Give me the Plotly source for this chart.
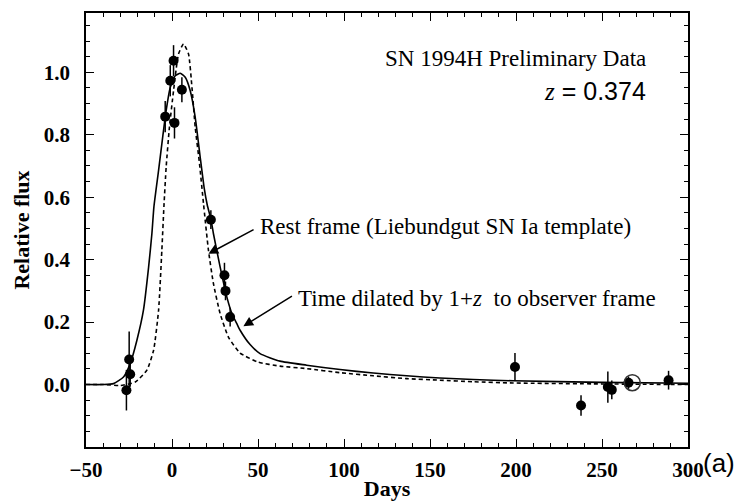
import plotly.graph_objects as go

# ---- data ----
obs_days = [-24.9, -24.3, -26.5, -3.95, -1.0, 0.9, 1.45, 5.75, 22.6, 30.5, 31.1, 33.8,
            199.4, 237.8, 253.4, 255.7, 265.4, 288.7]
obs_flux = [0.080, 0.033, -0.018, 0.858, 0.973, 1.037, 0.838, 0.944, 0.528, 0.350, 0.300, 0.216,
            0.056, -0.067, -0.008, -0.017, 0.006, 0.014]
obs_err = [0.090, 0.040, 0.065, 0.050, 0.050, 0.050, 0.050, 0.040, 0.030, 0.040, 0.030, 0.030,
           0.045, 0.033, 0.050, 0.030, 0.020, 0.030]

circled_day = [267.6]
circled_flux = [0.006]

# time-dilated template (solid)
dil_days = [-50, -40, -34, -28.2, -24.3, -20.4, -16.6, -13.6, -11.7, -10.5, -7.8, -5.9, -3.4,
             -1.0, 1.9, 4.8, 7.7, 10.6, 13.5, 16.4, 18.7, 20.5, 22.6, 24.1, 28.0, 31.9, 35.0,
             37.7, 39.6, 45.4, 51.2, 62.8, 78.3, 97.7, 117, 136.4, 155.7, 175.1, 198.3, 250, 300]
dil_flux = [0.0, 0.0, 0.003, 0.024, 0.067, 0.142, 0.238, 0.376, 0.483, 0.570, 0.686, 0.771, 0.877,
            0.952, 0.989, 0.997, 0.984, 0.941, 0.856, 0.728, 0.630, 0.575, 0.530, 0.483, 0.376, 0.280, 0.225,
            0.195, 0.174, 0.128, 0.099, 0.075, 0.062, 0.048, 0.037, 0.028, 0.021, 0.016, 0.012, 0.007, 0.004]

# rest-frame template (dashed)
rest_days = [-50, -40, -30, -21.4, -14.6, -10.7, -7.8, -5.9, -4.7, -3.4, -1.5, 0.9, 3.8, 6.7,
             9.6, 11.6, 13.5, 16.0, 18.3, 21.2, 24.1, 28.0, 32.8, 39.6, 50, 62.8, 78.3, 97.7,
             117, 136.4, 155.7, 175.1, 198.3, 250, 300]
rest_flux = [0.0, 0.0, -0.003, 0.008, 0.046, 0.110, 0.238, 0.430, 0.570, 0.696, 0.824, 0.941, 1.059, 1.091,
             1.059, 0.952, 0.824, 0.707, 0.580, 0.430, 0.323, 0.227, 0.152, 0.101, 0.072, 0.059, 0.051, 0.038,
             0.028, 0.019, 0.014, 0.009, 0.005, 0.002, 0.0]

x_ticks = [-50, 0, 50, 100, 150, 200, 250, 300]
x_labels = ["\u221250", "0", "50", "100", "150", "200", "250", "300"]
y_ticks = [0.0, 0.2, 0.4, 0.6, 0.8, 1.0]
y_labels = ["0.0", "0.2", "0.4", "0.6", "0.8", "1.0"]

SERIF = "Liberation Serif"
SANS = "Liberation Sans"

fig = go.Figure()

fig.add_trace(go.Scatter(x=rest_days, y=rest_flux, mode="lines",
                         line=dict(color="black", width=1.6, dash="4px,3px", shape="spline", smoothing=0.5),
                         hoverinfo="skip", showlegend=False))
fig.add_trace(go.Scatter(x=dil_days, y=dil_flux, mode="lines",
                         line=dict(color="black", width=1.6, shape="spline", smoothing=0.5),
                         hoverinfo="skip", showlegend=False))
fig.add_trace(go.Scatter(x=obs_days, y=obs_flux, mode="markers",
                         marker=dict(color="black", size=10),
                         error_y=dict(type="data", array=obs_err, color="black", thickness=1.5, width=0),
                         showlegend=False))
fig.add_trace(go.Scatter(x=circled_day, y=circled_flux, mode="markers",
                         marker=dict(color="rgba(0,0,0,0)", size=16, line=dict(color="#333", width=1.6)),
                         showlegend=False))

ann = []
ann.append(dict(x=276.6, y=1.044, xref="x", yref="y", text="SN 1994H Preliminary Data",
                showarrow=False, xanchor="right", yanchor="middle",
                font=dict(family=SERIF, size=23, color="black")))
ann.append(dict(x=276.6, y=0.941, xref="x", yref="y",
                text="<i><span style='font-family:Liberation Serif'>z</span></i> = 0.374",
                showarrow=False, xanchor="right", yanchor="middle",
                font=dict(family=SANS, size=25, color="black")))
ann.append(dict(x=50.0, y=0.506, xref="x", yref="y", text="Rest frame (Liebundgut SN Ia template)",
                showarrow=False, xanchor="left", yanchor="middle",
                font=dict(family=SERIF, size=23, color="black")))
ann.append(dict(x=72.1, y=0.276, xref="x", yref="y", text="Time dilated by 1+<i>z</i>  to observer frame",
                showarrow=False, xanchor="left", yanchor="middle",
                font=dict(family=SERIF, size=23, color="black")))
ann.append(dict(x=21.2, y=0.419, xref="x", yref="y", ax=48.3, ay=0.499, axref="x", ayref="y",
                text="", showarrow=True, arrowhead=2, arrowsize=1.3, arrowwidth=1.5, arrowcolor="black"))
ann.append(dict(x=41.5, y=0.187, xref="x", yref="y", ax=70.6, ay=0.286, axref="x", ayref="y",
                text="", showarrow=True, arrowhead=2, arrowsize=1.3, arrowwidth=1.5, arrowcolor="black"))
ann.append(dict(x=1.052, y=-0.036, xref="paper", yref="paper", text="(a)", showarrow=False,
                xanchor="center", yanchor="middle", font=dict(family=SANS, size=26, color="black")))

fig.update_layout(
    width=739, height=501,
    margin=dict(l=86, r=51, t=13, b=54),
    paper_bgcolor="white", plot_bgcolor="white",
    font=dict(family=SERIF, color="black"),
    annotations=ann,
    showlegend=False,
)

fig.update_xaxes(range=[-50, 300], tickvals=x_ticks, ticktext=x_labels, automargin=False,
                 ticks="inside", ticklen=8, tickwidth=1.3, tickcolor="black",
                 minor=dict(ticks="inside", dtick=10, tick0=0, ticklen=4, tickwidth=1.2, tickcolor="black", showgrid=False),
                 showline=True, linecolor="black", linewidth=1.6, mirror="allticks",
                 showgrid=False, zeroline=False, ticklabelstandoff=3,
                 tickfont=dict(family=SERIF, size=21, color="black", weight="bold"),
                 title=dict(text="<b>Days</b>", font=dict(family=SERIF, size=22, color="black"), standoff=0))
fig.update_yaxes(range=[-0.2, 1.19], tickvals=y_ticks, ticktext=y_labels, automargin=False,
                 ticks="inside", ticklen=8, tickwidth=1.3, tickcolor="black",
                 minor=dict(ticks="inside", dtick=0.05, tick0=0, ticklen=4, tickwidth=1.2, tickcolor="black", showgrid=False),
                 showline=True, linecolor="black", linewidth=1.6, mirror="allticks",
                 showgrid=False, zeroline=False, ticklabelstandoff=10,
                 tickfont=dict(family=SERIF, size=21, color="black", weight="bold"),
                 title=dict(text="<b>Relative flux</b>", font=dict(family=SERIF, size=22, color="black"), standoff=8))

fig.write_html("out.html")
